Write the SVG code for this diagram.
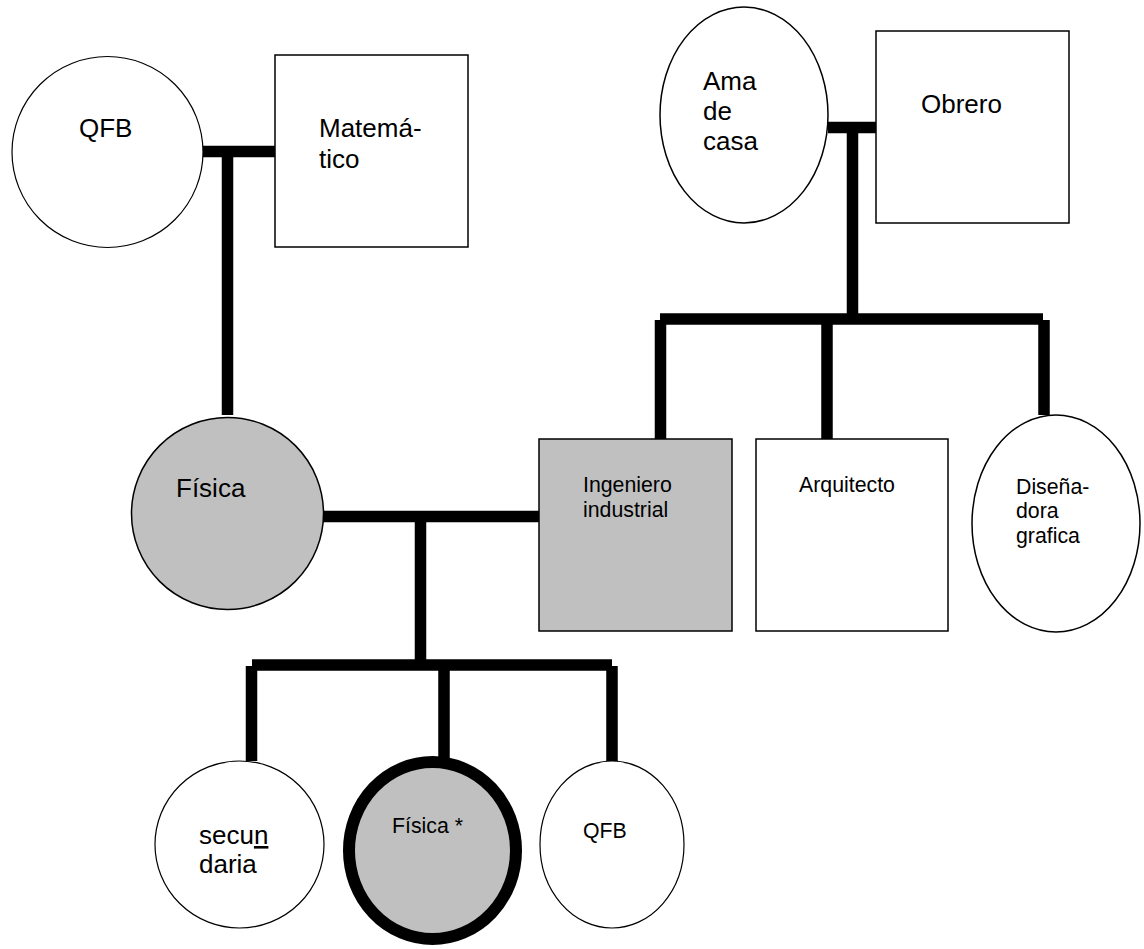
<svg xmlns="http://www.w3.org/2000/svg" width="1144" height="949" viewBox="0 0 1144 949">
<style>
.n{stroke:#000;stroke-width:1.5;fill:#fff}
.g{fill:#c0c0c0}
.thin{stroke-width:1.2}
.c line{stroke:#000;stroke-width:11.5;stroke-linecap:butt}
text{font-family:"Liberation Sans",Arial,sans-serif;fill:#000}
.L{font-size:26px}
.S{font-size:21.3px}
</style>
<rect width="1144" height="949" fill="#fff"/>
<g class="c" id="connectors">
<line x1="203" y1="151.5" x2="275" y2="151.5"/>
<line x1="227.5" y1="151.5" x2="227.5" y2="415"/>
<line x1="828" y1="127.5" x2="876" y2="127.5"/>
<line x1="852.5" y1="127.5" x2="852.5" y2="319"/>
<line x1="660" y1="319" x2="1043" y2="319"/>
<line x1="660.5" y1="320" x2="660.5" y2="439"/>
<line x1="827" y1="319" x2="827" y2="439"/>
<line x1="1044" y1="320" x2="1044" y2="415"/>
<line x1="323" y1="516.5" x2="539" y2="516.5"/>
<line x1="420.5" y1="516.5" x2="420.5" y2="665"/>
<line x1="252" y1="665" x2="612" y2="665"/>
<line x1="251.5" y1="666" x2="251.5" y2="761"/>
<line x1="444" y1="665" x2="444" y2="758"/>
<line x1="612" y1="666" x2="612" y2="761"/>
</g>
<g id="qfb-top"><circle class="n thin" cx="107.5" cy="152" r="95.5"/><text class="L" x="79" y="137">QFB</text></g>
<g id="matematico"><rect class="n" x="275" y="55" width="193" height="192"/><text class="L" x="319" y="137">Matemá-</text><text class="L" x="319" y="168">tico</text></g>
<g id="ama-de-casa"><ellipse class="n" cx="744" cy="115" rx="84" ry="108"/><text class="L" x="703" y="90">Ama</text><text class="L" x="703" y="120">de</text><text class="L" x="703" y="150">casa</text></g>
<g id="obrero"><rect class="n" x="876" y="31" width="193" height="192"/><text class="L" x="921" y="113">Obrero</text></g>
<g id="fisica"><circle class="n g" cx="227.5" cy="513.5" r="96"/><text class="L" x="176" y="497">Física</text></g>
<g id="ingeniero"><rect class="n g" x="539" y="439" width="193" height="192"/><text class="S" x="583" y="492">Ingeniero</text><text class="S" x="583" y="517">industrial</text></g>
<g id="arquitecto"><rect class="n" x="756" y="439" width="192" height="192"/><text class="S" x="799" y="492">Arquitecto</text></g>
<g id="disenadora"><ellipse class="n" cx="1056" cy="523.5" rx="84" ry="108.5"/><text class="S" x="1016" y="494">Diseña-</text><text class="S" x="1016" y="518">dora</text><text class="S" x="1016" y="543">grafica</text></g>
<g id="secundaria"><ellipse class="n thin" cx="239.5" cy="844.5" rx="84.5" ry="83.5"/><text class="L" x="199" y="844">secu<tspan text-decoration="underline">n</tspan></text><text class="L" x="199" y="873">daria</text></g>
<g id="fisica-star"><ellipse cx="432.5" cy="850.5" rx="83.5" ry="88.5" fill="#c0c0c0" stroke="#000" stroke-width="12"/><text class="S" x="392" y="833">Física *</text></g>
<g id="qfb-bottom"><ellipse class="n thin" cx="612" cy="844.5" rx="72" ry="83.5"/><text class="S" x="583" y="838">QFB</text></g>
</svg>
